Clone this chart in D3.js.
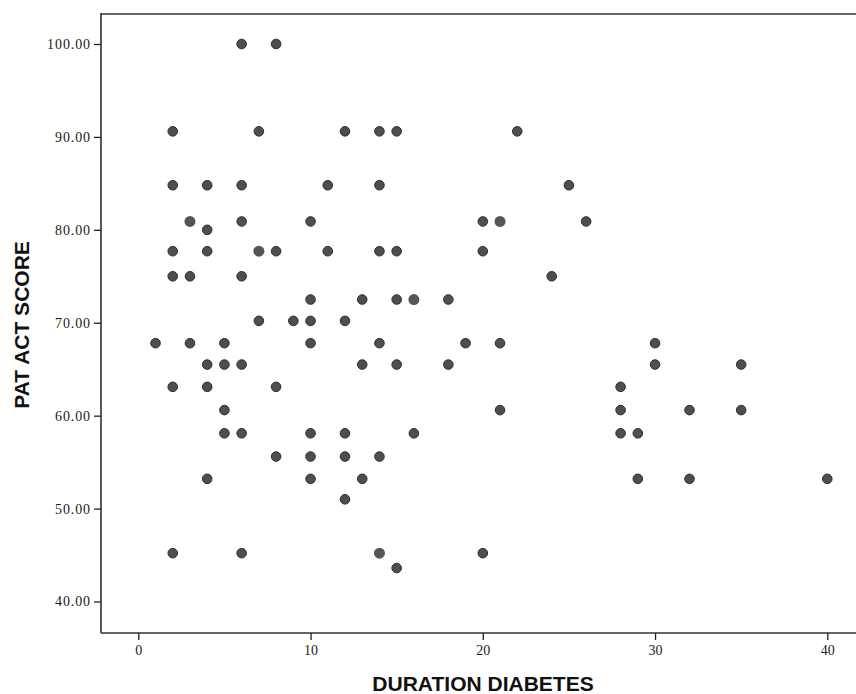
<!DOCTYPE html>
<html>
<head>
<meta charset="utf-8">
<script src="https://cdn.jsdelivr.net/npm/d3@7/dist/d3.min.js"></script>
<style>
  html, body { margin: 0; padding: 0; background: #fff; }
  svg { display: block; }
</style>
</head>
<body>
<svg id="chart" width="856" height="694"></svg>
<script>
// Data
const duration = [
  6, 8,
  2, 7, 12, 14, 15, 22,
  2, 4, 6, 11, 14, 25,
  3, 3, 6, 10, 20, 21, 21, 26,
  4,
  2, 4, 7, 7, 8, 11, 14, 15, 20,
  2, 3, 6, 24,
  10, 13, 15, 16, 16, 18,
  7, 9, 10, 12,
  1, 3, 5, 10, 14, 19, 21, 30,
  4, 5, 6, 13, 15, 18, 30, 35,
  2, 4, 8, 28,
  5, 21, 28, 32, 35,
  5, 6, 10, 12, 16, 28, 29,
  8, 10, 12, 14,
  4, 10, 13, 29, 32, 40,
  12,
  2, 6, 14, 14, 20,
  15
];
const score = [
  100.0, 100.0,
  90.6, 90.6, 90.6, 90.6, 90.6, 90.6,
  84.8, 84.8, 84.8, 84.8, 84.8, 84.8,
  80.9, 80.9, 80.9, 80.9, 80.9, 80.9, 80.9, 80.9,
  80.0,
  77.7, 77.7, 77.7, 77.7, 77.7, 77.7, 77.7, 77.7, 77.7,
  75.0, 75.0, 75.0, 75.0,
  72.5, 72.5, 72.5, 72.5, 72.5, 72.5,
  70.2, 70.2, 70.2, 70.2,
  67.8, 67.8, 67.8, 67.8, 67.8, 67.8, 67.8, 67.8,
  65.5, 65.5, 65.5, 65.5, 65.5, 65.5, 65.5, 65.5,
  63.1, 63.1, 63.1, 63.1,
  60.6, 60.6, 60.6, 60.6, 60.6,
  58.1, 58.1, 58.1, 58.1, 58.1, 58.1, 58.1,
  55.6, 55.6, 55.6, 55.6,
  53.2, 53.2, 53.2, 53.2, 53.2, 53.2,
  51.0,
  45.2, 45.2, 45.2, 45.2, 45.2,
  43.6
];
const xTicks = [0, 10, 20, 30, 40];
const yTicks = [40, 50, 60, 70, 80, 90, 100];
const xTitle = "DURATION DIABETES";
const yTitle = "PAT ACT SCORE";

const svg = d3.select("#chart");
const frame = { left: 101, top: 14, right: 856, bottom: 633 };

const x = d3.scaleLinear().domain([0, 40]).range([138.3, 827.3]);
const y = d3.scaleLinear().domain([40, 100]).range([601.5, 44]);

// frame lines
svg.append("line").attr("x1", frame.left).attr("x2", frame.right)
  .attr("y1", frame.top).attr("y2", frame.top)
  .attr("stroke", "#6a6a6a").attr("stroke-width", 2);
svg.append("line").attr("x1", frame.left).attr("x2", frame.left)
  .attr("y1", frame.top - 1).attr("y2", frame.bottom)
  .attr("stroke", "#222").attr("stroke-width", 1.5);
svg.append("line").attr("x1", frame.left).attr("x2", frame.right)
  .attr("y1", frame.bottom).attr("y2", frame.bottom)
  .attr("stroke", "#333").attr("stroke-width", 1.5);

// x axis
const gx = svg.append("g").attr("transform", `translate(0,${frame.bottom})`)
  .call(d3.axisBottom(x).tickValues(xTicks).tickFormat(d3.format("d")).tickSize(7).tickSizeOuter(0));
gx.select(".domain").remove();
gx.selectAll(".tick line").attr("stroke", "#222").attr("stroke-width", 1.3);
gx.selectAll(".tick text").attr("font-family", "Liberation Serif, serif")
  .attr("font-size", 14).attr("fill", "#222").attr("dy", "0.85em");

// y axis
const gy = svg.append("g").attr("transform", `translate(${frame.left},0)`)
  .call(d3.axisLeft(y).tickValues(yTicks).tickFormat(d3.format(".2f")).tickSize(7).tickSizeOuter(0));
gy.select(".domain").remove();
gy.selectAll(".tick line").attr("stroke", "#222").attr("stroke-width", 1.3);
gy.selectAll(".tick text").attr("font-family", "Liberation Serif, serif")
  .attr("font-size", 14).attr("letter-spacing", 0.9).attr("fill", "#1a1a1a").attr("x", -10);

// points (overlapping duplicates drawn a little larger, as in the picture)
const pts = duration.map((d, i) => ({ x: d, y: score[i] }));
const counts = d3.rollup(pts, v => v.length, d => d.x + "|" + d.y);
const uniq = Array.from(counts, ([k, n]) => {
  const [a, b] = k.split("|").map(Number);
  return { x: a, y: b, n };
});
svg.append("g").selectAll("circle").data(uniq).join("circle")
  .attr("cx", d => x(d.x))
  .attr("cy", d => y(d.y))
  .attr("r", d => d.n > 1 ? 5.5 : 4.8)
  .attr("fill", d => d.n > 1 ? "#555" : "#4e4e4e")
  .attr("stroke", d => d.n > 1 ? "none" : "#2e2e2e")
  .attr("stroke-width", 1);

// titles
svg.append("text").attr("x", 483).attr("y", 691)
  .attr("text-anchor", "middle")
  .attr("font-family", "Liberation Sans, Arial, sans-serif")
  .attr("font-weight", "bold").attr("font-size", 21).attr("fill", "#111")
  .text(xTitle);
svg.append("text")
  .attr("transform", "translate(29,325) rotate(-90)")
  .attr("text-anchor", "middle")
  .attr("font-family", "Liberation Sans, Arial, sans-serif")
  .attr("font-weight", "bold").attr("font-size", 21).attr("fill", "#111")
  .text(yTitle);
</script>
</body>
</html>
